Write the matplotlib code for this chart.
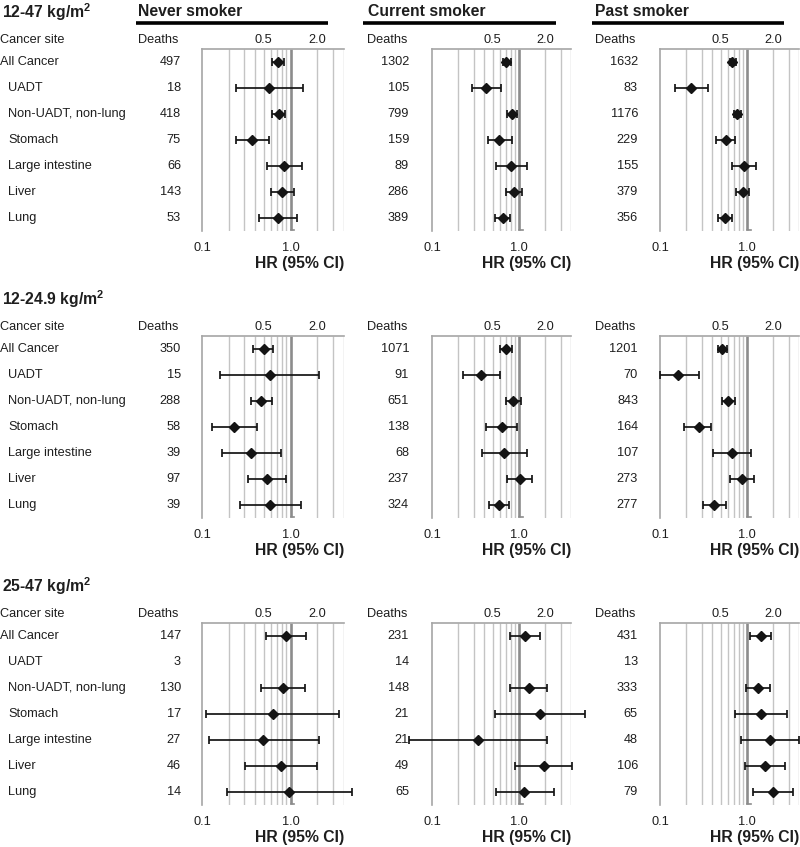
import numpy as np
import matplotlib
matplotlib.use("Agg")
import matplotlib.pyplot as plt
from matplotlib.transforms import blended_transform_factory

plt.rcParams['font.family'] = ['Liberation Sans', 'DejaVu Sans']
plt.rcParams['mathtext.fontset'] = 'custom'
plt.rcParams['mathtext.rm'] = 'Liberation Sans'
plt.rcParams['mathtext.bf'] = 'Liberation Sans:bold'

# ---------------- data ----------------
sites = ["All Cancer", "UADT", "Non-UADT, non-lung", "Stomach",
         "Large intestine", "Liver", "Lung"]
bmi_groups = ["12-47", "12-24.9", "25-47"]
smoking = ["Never smoker", "Current smoker", "Past smoker"]

# BMI 12-47
deaths_g1_never = [497, 18, 418, 75, 66, 143, 53]
hr_g1_never = [0.72, 0.57, 0.74, 0.37, 0.85, 0.81, 0.72]
lo_g1_never = [0.61, 0.24, 0.62, 0.24, 0.54, 0.60, 0.44]
hi_g1_never = [0.85, 1.37, 0.87, 0.57, 1.35, 1.10, 1.18]

deaths_g1_current = [1302, 105, 799, 159, 89, 286, 389]
hr_g1_current = [0.71, 0.42, 0.84, 0.59, 0.81, 0.88, 0.65]
lo_g1_current = [0.66, 0.29, 0.73, 0.44, 0.55, 0.70, 0.53]
hi_g1_current = [0.81, 0.62, 0.94, 0.82, 1.23, 1.08, 0.79]

deaths_g1_past = [1632, 83, 1176, 229, 155, 379, 356]
hr_g1_past = [0.68, 0.23, 0.77, 0.57, 0.92, 0.89, 0.56]
lo_g1_past = [0.63, 0.15, 0.70, 0.44, 0.68, 0.75, 0.46]
hi_g1_past = [0.75, 0.36, 0.85, 0.73, 1.26, 1.06, 0.68]

# BMI 12-24.9
deaths_g2_never = [350, 15, 288, 58, 39, 97, 39]
hr_g2_never = [0.50, 0.59, 0.47, 0.23, 0.36, 0.54, 0.59]
lo_g2_never = [0.38, 0.16, 0.36, 0.13, 0.17, 0.33, 0.27]
hi_g2_never = [0.63, 2.12, 0.62, 0.42, 0.78, 0.88, 1.31]

deaths_g2_current = [1071, 91, 651, 138, 68, 237, 324]
hr_g2_current = [0.70, 0.37, 0.85, 0.63, 0.68, 1.02, 0.59]
lo_g2_current = [0.60, 0.23, 0.70, 0.42, 0.38, 0.73, 0.45]
hi_g2_current = [0.82, 0.61, 1.05, 0.96, 1.25, 1.42, 0.77]

deaths_g2_past = [1201, 70, 843, 164, 107, 273, 277]
hr_g2_past = [0.51, 0.16, 0.61, 0.28, 0.67, 0.88, 0.42]
lo_g2_past = [0.46, 0.10, 0.51, 0.19, 0.41, 0.64, 0.31]
hi_g2_past = [0.59, 0.28, 0.72, 0.39, 1.10, 1.21, 0.57]

# BMI 25-47 (UADT not estimated)
deaths_g3_never = [147, 3, 130, 17, 27, 46, 14]
hr_g3_never = [0.89, np.nan, 0.82, 0.63, 0.49, 0.79, 0.95]
lo_g3_never = [0.53, np.nan, 0.47, 0.11, 0.12, 0.31, 0.19]
hi_g3_never = [1.51, np.nan, 1.45, 3.53, 2.12, 2.01, 4.91]

deaths_g3_current = [231, 14, 148, 21, 21, 49, 65]
hr_g3_current = [1.16, np.nan, 1.30, 1.74, 0.34, 1.94, 1.14]
lo_g3_current = [0.78, np.nan, 0.79, 0.53, 0.054, 0.91, 0.54]
hi_g3_current = [1.76, np.nan, 2.12, 5.74, 2.12, 4.10, 2.51]

deaths_g3_past = [431, 13, 333, 65, 48, 106, 79]
hr_g3_past = [1.44, np.nan, 1.34, 1.44, 1.84, 1.60, 1.99]
lo_g3_past = [1.08, np.nan, 0.98, 0.73, 0.85, 0.94, 1.17]
hi_g3_past = [1.90, np.nan, 1.84, 2.88, 3.96, 2.71, 3.41]

top_ticks = [0.5, 2.0]
bottom_ticks = [0.1, 1.0]
grid_vals = [0.2, 0.3, 0.4, 0.5, 0.6, 0.7, 0.8, 0.9, 2.0, 3.0, 4.0]

panels = [
    [(deaths_g1_never, hr_g1_never, lo_g1_never, hi_g1_never),
     (deaths_g1_current, hr_g1_current, lo_g1_current, hi_g1_current),
     (deaths_g1_past, hr_g1_past, lo_g1_past, hi_g1_past)],
    [(deaths_g2_never, hr_g2_never, lo_g2_never, hi_g2_never),
     (deaths_g2_current, hr_g2_current, lo_g2_current, hi_g2_current),
     (deaths_g2_past, hr_g2_past, lo_g2_past, hi_g2_past)],
    [(deaths_g3_never, hr_g3_never, lo_g3_never, hi_g3_never),
     (deaths_g3_current, hr_g3_current, lo_g3_current, hi_g3_current),
     (deaths_g3_past, hr_g3_past, lo_g3_past, hi_g3_past)],
]

# ---------------- layout (pixels) ----------------
W, H = 800, 847
fig = plt.figure(figsize=(W / 100, H / 100), dpi=100)

def fx(x):
    return x / W

def fy(y):
    return 1 - y / H

TXT = '#1e1e1e'
GRID = '#c4c4c4'
SPINE = '#a6a6a6'
REF = '#8c8c8c'

ax_left = [202, 432, 660]
ax_width = [141.8, 139.4, 139.4]
deaths_hdr_x = [138, 367, 595]
deaths_num_x = [181, 409, 638]
title_x = [138, 368, 595]
uline = [(136, 328), (363, 556), (592, 784)]
row_off = 287
ax_top0, ax_bot0 = 49, 231

fs = 9.2
fs_b = 11.3

for c in range(3):
    fig.text(fx(title_x[c]), fy(12), smoking[c], fontsize=fs_b,
             fontweight='bold', color=TXT, ha='left', va='center')
    fig.add_artist(plt.Line2D([fx(uline[c][0]), fx(uline[c][1])],
                              [fy(23.5), fy(23.5)], color='black', lw=2.6,
                              solid_capstyle='butt'))

for r in range(3):
    yo = r * row_off
    fig.text(fx(2), fy(12 + yo), bmi_groups[r] + r' kg/m$\mathbf{^2}$',
             fontsize=fs_b, fontweight='bold', color=TXT, ha='left', va='center')
    fig.text(fx(0), fy(40 + yo), "Cancer site", fontsize=fs, color=TXT,
             ha='left', va='center')
    for c in range(3):
        deaths, hr, lo, hi = panels[r][c]
        top, bot = ax_top0 + yo, ax_bot0 + yo
        ax = fig.add_axes([fx(ax_left[c]), fy(bot), ax_width[c] / W, (bot - top) / H])
        ax.set_xscale('log')
        ax.set_xlim(0.1, 4.0)
        ax.set_ylim(6.5, -0.5)
        ax.set_facecolor('none')
        for s in ['right', 'bottom']:
            ax.spines[s].set_visible(False)
        for s in ['left', 'top']:
            ax.spines[s].set_color(SPINE)
            ax.spines[s].set_linewidth(1.2)
        ax.vlines(grid_vals, -0.5, 6.5, color=GRID, lw=1.0, zorder=0)
        ax.vlines([1.0], -0.5, 6.45, color=REF, lw=1.9, zorder=1)
        ax.plot([1.0, 1.1], [6.45, 6.45], color=REF, lw=1.2, zorder=1,
                clip_on=False)
        ax.set_xticks(bottom_ticks)
        ax.set_xticklabels([f"{v:.1f}" for v in bottom_ticks])
        ax.xaxis.set_minor_locator(matplotlib.ticker.NullLocator())
        ax.tick_params(axis='x', length=0, pad=8, labelsize=fs, labelcolor=TXT)
        ax.set_yticks([])
        sec = ax.secondary_xaxis('top')
        sec.set_xticks(top_ticks)
        sec.set_xticklabels([f"{v:.1f}" for v in top_ticks])
        sec.xaxis.set_minor_locator(matplotlib.ticker.NullLocator())
        sec.tick_params(axis='x', length=0, pad=2.5, labelsize=fs, labelcolor=TXT)
        sec.spines['top'].set_visible(False)

        ys = np.arange(len(sites))
        hr_a, lo_a, hi_a = np.array(hr), np.array(lo), np.array(hi)
        ok = ~np.isnan(hr_a)
        cont = ax.errorbar(hr_a[ok], ys[ok],
                           xerr=[hr_a[ok] - lo_a[ok], hi_a[ok] - hr_a[ok]],
                           fmt='D', color='#141414', ms=4.6, capsize=2.8,
                           elinewidth=1.25, capthick=1.25, zorder=3)
        for art in cont.get_children():
            art.set_clip_on(False)

        ax.text(1.0, -0.176, "HR (95% CI)", transform=ax.transAxes,
                fontsize=fs_b, fontweight='bold', color=TXT,
                ha='right', va='center')

        trans = blended_transform_factory(fig.transFigure, ax.transData)
        fig.text(fx(deaths_hdr_x[c]), fy(40 + yo), "Deaths", fontsize=fs,
                 color=TXT, ha='left', va='center')
        for i, d in enumerate(deaths):
            ax.text(fx(deaths_num_x[c]), i, str(d), transform=trans,
                    fontsize=fs, color=TXT, ha='right', va='center')
        if c == 0:
            for i, s in enumerate(sites):
                ax.text(fx(0 if i == 0 else 8), i, s, transform=trans,
                        fontsize=fs, color=TXT, ha='left', va='center')

fig.savefig("out.png", dpi=100)
